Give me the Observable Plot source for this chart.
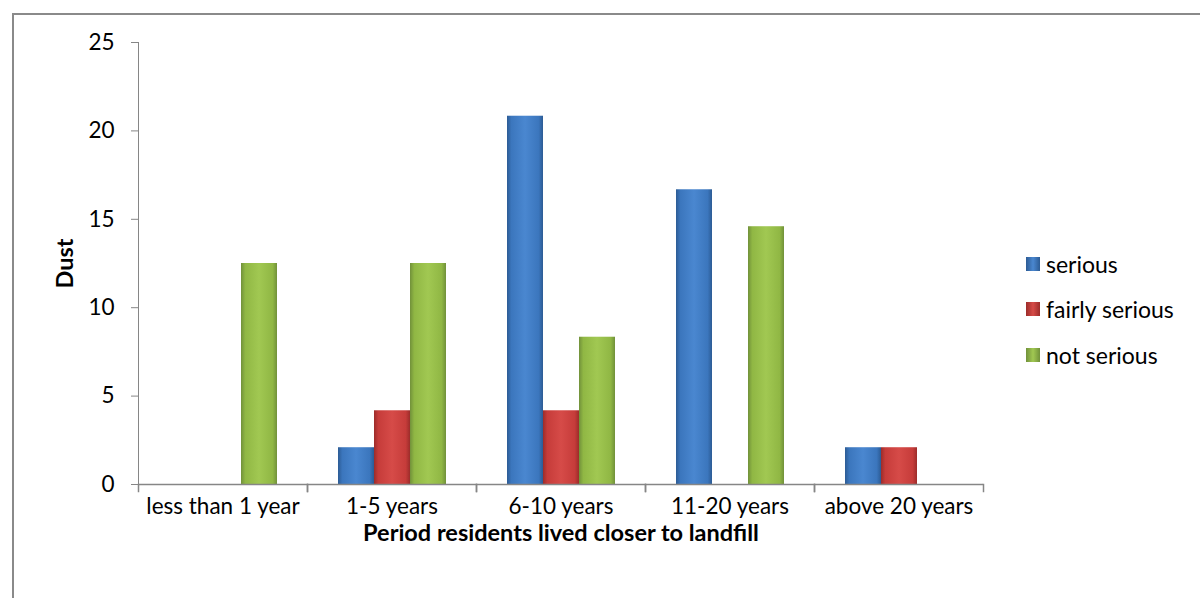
<!DOCTYPE html>
<html><head><meta charset="utf-8">
<script src="https://cdn.jsdelivr.net/npm/d3@7"></script>
<script src="https://cdn.jsdelivr.net/npm/@observablehq/plot@0.6"></script>
<style>
body{margin:0;background:#fff;font-family:Lato,"Open Sans",sans-serif;}
#wrap{position:relative;width:1200px;height:598px;overflow:hidden;background:#fff;}
#border{position:absolute;left:12px;top:13px;width:1300px;height:700px;border-left:2px solid #8a8a8a;border-top:2px solid #8a8a8a;}
#chart{position:absolute;left:0;top:0;}
#legend{position:absolute;left:1026px;top:241px;font-size:23px;color:#000;}
.item{display:flex;align-items:center;height:45.5px;}
.sw{width:14px;height:14px;margin-right:6px;}
</style></head>
<body>
<div id="wrap"><div id="border"></div><div id="chart"></div><div id="legend"></div></div>
<script>
const periods = ["less than 1 year", "1-5 years", "6-10 years", "11-20 years", "above 20 years"];
const seriesNames = ["serious", "fairly serious", "not serious"];
const serious = [0, 2.08, 20.83, 16.67, 2.08];
const fairlySerious = [0, 4.17, 4.17, 0, 2.08];
const notSerious = [12.5, 12.5, 8.33, 14.58, 0];
const yTicks = [0, 5, 10, 15, 20, 25];
const xTitle = "Period residents lived closer to landfill";
const yTitle = "Dust";

const palette = [
  {id: "g-serious", dark: "#2c5b94", base: "#3b76bd", light: "#4a87d0"},
  {id: "g-fairly", dark: "#9c2c2a", base: "#c63c3a", light: "#d64b48"},
  {id: "g-not", dark: "#71913a", base: "#90b744", light: "#a1c852"}
];

const values = [serious, fairlySerious, notSerious];
const data = periods.flatMap((p, i) => seriesNames.map((s, j) => ({period: p, series: s, value: values[j][i]})));

const chart = Plot.plot({
  width: 1200, height: 560,
  marginLeft: 137, marginRight: 217, marginTop: 42, marginBottom: 76,
  style: {fontFamily: "Lato, 'Open Sans', sans-serif", fontSize: "22.5px", color: "#000", background: "transparent", overflow: "visible"},
  fx: {domain: periods, padding: 0, axis: "bottom", tickSize: 0, tickPadding: 14, label: xTitle, labelAnchor: "center", labelOffset: 56, labelArrow: "none"},
  x: {domain: seriesNames, paddingInner: 0, paddingOuter: 0.786, axis: null},
  y: {domain: [0, 25], ticks: yTicks, tickSize: 7, tickPadding: 17, label: yTitle, labelAnchor: "center", labelOffset: 82, labelArrow: "none", line: true},
  color: {domain: seriesNames, range: palette.map(p => `url(#${p.id})`)},
  marks: [
    Plot.barY(data, {filter: d => d.value > 0, fx: "period", x: "series", y: "value", fill: "series"}),
    Plot.ruleY([0], {stroke: "#868686", strokeWidth: 1.5}),
    Plot.frame({anchor: "left", stroke: "#868686", strokeWidth: 1.5, insetTop: 442, insetBottom: -7}),
    Plot.frame({anchor: "right", stroke: "#868686", strokeWidth: 1.5, insetTop: 442, insetBottom: -7})
  ]
});

const svg = d3.select(chart);
const defs = svg.insert("defs", ":first-child");
palette.forEach(p => {
  const g = defs.append("linearGradient").attr("id", p.id).attr("x1", 0).attr("x2", 1).attr("y1", 0).attr("y2", 0);
  [[0, p.dark], [0.12, p.base], [0.5, p.light], [0.88, p.base], [1, p.dark]].forEach(([o, c]) =>
    g.append("stop").attr("offset", o).attr("stop-color", c));
});
chart.querySelectorAll('[stroke="currentColor"]').forEach(el => el.setAttribute("stroke", "#868686"));
chart.querySelectorAll("text").forEach(t => {
  const s = t.textContent.replace(/[↑→←↓]/g, "").trim();
  if (s === xTitle || s === yTitle) {
    t.setAttribute("font-weight", "bold");
    t.setAttribute("font-size", "23.5px");
    if (t.textContent.trim() !== s) t.textContent = s;
  }
});
document.getElementById("chart").appendChild(chart);

const legend = d3.select("#legend");
seriesNames.forEach((s, j) => {
  const it = legend.append("div").attr("class", "item");
  it.append("div").attr("class", "sw").style("background", `linear-gradient(to right, ${palette[j].dark}, ${palette[j].light}, ${palette[j].dark})`);
  it.append("span").text(s);
});
</script>
</body></html>
